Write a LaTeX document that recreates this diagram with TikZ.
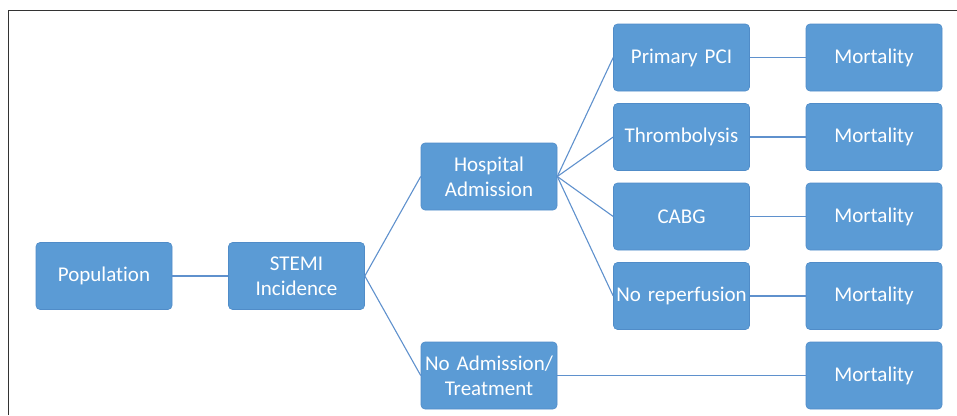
\documentclass[tikz,border=0pt]{standalone}
\usepackage{fontspec}
\setmainfont{Carlito}[Ligatures=NoCommon]
\usepackage{tikz}
\definecolor{boxblue}{RGB}{91,155,213}
\definecolor{boxline}{RGB}{80,140,200}
\definecolor{linkblue}{RGB}{95,145,205}
\tikzstyle{block} = [rectangle, rounded corners=4pt, minimum width=136pt, minimum height=67pt, inner sep=1pt, text width=134pt, align=center, text=white, draw=boxline, line width=0.6pt, fill=boxblue, font=\fontsize{21pt}{25pt}\selectfont]
\tikzstyle{link} = [linkblue, line width=1.1pt]

\begin{document}
\begin{tikzpicture}[node distance=192.5pt]
        \useasboundingbox (0pt,0pt) rectangle (957pt,-415pt);
        \draw [line width=1.3pt, black!80] (8.5pt,-415pt) |- (957pt,-10.5pt);

        \node (pop) [block] at (104pt,-276pt) {Population};
        \node (stemi) [block, right of=pop] {STEMI\\Incidence};
        \node (hosp) [block, right of=stemi, yshift=+99.5pt] {Hospital\\Admission};
        \node (noadm) [block, right of=stemi, yshift=-99.5pt] {No Admission/\\Treatment};
        \node (pci) [block, right of=hosp, yshift=+119pt] {Primary PCI};
        \node (throm) [block, below of=pci, yshift=+113pt] {Thrombolysis};
        \node (cabg) [block, below of=throm, yshift=+113pt] {CABG};
        \node (norep) [block, below of=cabg, yshift=+113pt] {No reperfusion};
        \node (mort1) [block, right of=pci] {Mortality};
        \node (mort2) [block, right of=throm] {Mortality};
        \node (mort3) [block, right of=cabg] {Mortality};
        \node (mort4) [block, right of=norep] {Mortality};
        \node (mort5) [block, right of=noadm, xshift=+192.5pt] {Mortality};

        \draw [link] (pop) -- (stemi);
        \draw [link] (stemi.east) -- (hosp.west);
        \draw [link] (stemi.east) -- (noadm.west);
        \draw [link] (hosp.east) -- (pci.west);
        \draw [link] (hosp.east) -- (throm.west);
        \draw [link] (hosp.east) -- (cabg.west);
        \draw [link] (hosp.east) -- (norep.west);
        \draw [link] (pci) -- (mort1);
        \draw [link] (throm) -- (mort2);
        \draw [link] (cabg) -- (mort3);
        \draw [link] (norep) -- (mort4);
        \draw [link] (noadm) -- (mort5);
 \end{tikzpicture}
\end{document}
